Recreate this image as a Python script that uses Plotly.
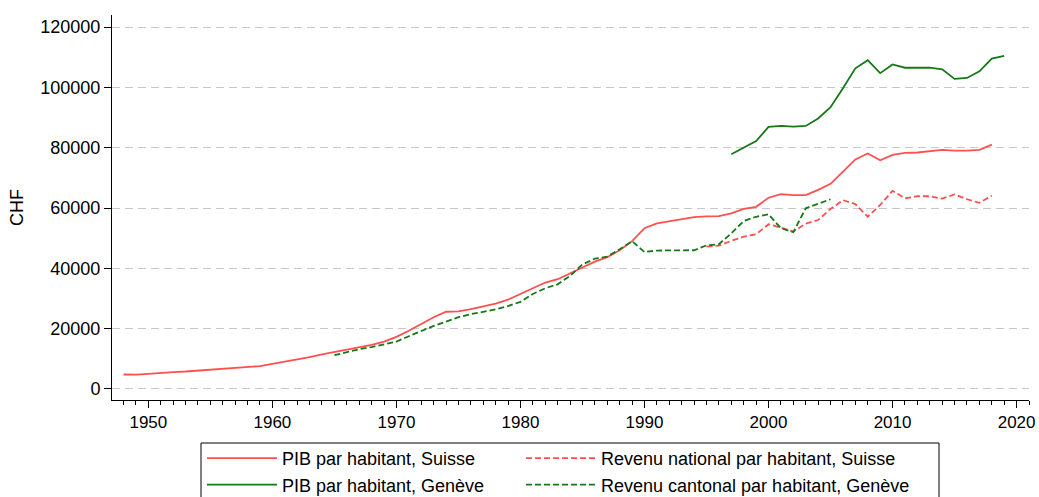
import plotly.graph_objects as go

years_pib_ch = list(range(1948, 2019))
pib_ch = [4800, 4750, 5000, 5400, 5600, 5800, 6100, 6400, 6800, 7100,
          7200, 7600, 8300, 9000, 9800, 10600, 11500, 12300, 13000, 13800,
          14600, 15700, 17300, 19300, 21600, 23800, 25600, 25700, 26500, 27300,
          28300, 29600, 31500, 33500, 35300, 36400, 38400, 40300, 42200, 43700,
          46000, 49000, 53300, 54900, 55600, 56400, 57000, 57200, 57300, 58200,
          59700, 60400, 63400, 64600, 64300, 64300, 66000, 68000, 72000, 76100,
          78100, 75800, 77600, 78300, 78400, 78900, 79300, 79000, 79000, 79300,
          81000]

years_rn_ch = list(range(1995, 2019))
rn_ch = [47200, 47500, 49100, 50500, 51300, 54600, 53500, 52200, 54800, 56000,
         59700, 62600, 61300, 57100, 61000, 65700, 63200, 63900, 63900, 63100,
         64500, 62900, 61700, 64100]

years_pib_ge = list(range(1997, 2020))
pib_ge = [77800, 80100, 82200, 86900, 87200, 87000, 87200, 89700, 93400, 99700,
          106300, 109000, 104700, 107600, 106500, 106500, 106500, 106000, 102800,
          103100, 105300, 109500, 110400]

years_rc_ge = list(range(1965, 2006))
rc_ge = [11200, 12200, 13200, 13900, 14700, 15700, 17500, 19300, 20900, 22300,
         23800, 24800, 25600, 26400, 27500, 28900, 31500, 33400, 34700, 37500,
         41300, 43200, 43900, 46300, 49000, 45400, 45900, 45900, 45900, 46000,
         47600, 48000, 51600, 55700, 57100, 57900, 53300, 52000, 59900, 61300,
         62900]

names = ["PIB par habitant, Suisse", "Revenu national par habitant, Suisse",
         "PIB par habitant, Genève", "Revenu cantonal par habitant, Genève"]

RED = "rgb(255,80,80)"
GREEN = "rgb(22,120,22)"
FONT = "Liberation Sans, Arial, sans-serif"

fig = go.Figure()
fig.add_trace(go.Scatter(x=years_pib_ch, y=pib_ch, mode="lines", name=names[0],
                         line=dict(color=RED, width=1.8), legend="legend"))
fig.add_trace(go.Scatter(x=years_rn_ch, y=rn_ch, mode="lines", name=names[1],
                         line=dict(color=RED, width=1.8, dash="6px,3px"), legend="legend2"))
fig.add_trace(go.Scatter(x=years_pib_ge, y=pib_ge, mode="lines", name=names[2],
                         line=dict(color=GREEN, width=1.8), legend="legend"))
fig.add_trace(go.Scatter(x=years_rc_ge, y=rc_ge, mode="lines", name=names[3],
                         line=dict(color=GREEN, width=1.8, dash="6px,3px"), legend="legend2"))

# page coordinates (body margin removed below)
W, H = 1039, 497
PL, PR, PT, PB = 112, 1029, 15, 400
PW, PH = PR - PL, PB - PT

def px_x(p):
    return (p - PL) / PW

def px_y(p):
    return (PB - p) / PH

leg_common = dict(orientation="v", yanchor="top", xanchor="left",
                  borderwidth=0, itemwidth=70, bgcolor="rgba(0,0,0,0)",
                  font=dict(family=FONT, size=18, color="black"),
                  traceorder="normal")

fig.update_layout(
    width=W, height=H,
    margin=dict(l=PL, r=W - PR, t=PT, b=H - PB, autoexpand=False),
    paper_bgcolor="white", plot_bgcolor="white",
    font=dict(family=FONT, size=18, color="black"),
    showlegend=True,
    legend=dict(x=px_x(202), y=px_y(440), **leg_common),
    legend2=dict(x=px_x(521), y=px_y(440), **leg_common),
    shapes=[dict(type="rect", xref="paper", yref="paper",
                 x0=px_x(201), x1=px_x(939), y0=px_y(513), y1=px_y(443),
                 line=dict(color="black", width=1), fillcolor="rgba(0,0,0,0)")],
)
fig.update_xaxes(
    range=[1947.07, 2021.0], tick0=1950, dtick=10,
    ticks="outside", ticklen=7, tickcolor="black", tickwidth=1,
    showline=True, linecolor="black", linewidth=1,
    showgrid=False, zeroline=False,
    minor=dict(dtick=1, tick0=1950, ticks="outside", ticklen=4, tickcolor="black", showgrid=False),
    tickfont=dict(size=17),
)
fig.update_yaxes(
    range=[-3650, 123980], tick0=0, dtick=20000, tickformat="d",
    ticks="outside", ticklen=7, tickcolor="black", tickwidth=1,
    showline=True, linecolor="black", linewidth=1,
    showgrid=True, gridcolor="rgb(200,200,200)", gridwidth=1, griddash="8px,5px",
    zeroline=False,
    title=dict(text="CHF", standoff=12, font=dict(size=18)),
    tickfont=dict(size=18),
)

fig.write_html(
    "out.html",
    config={"displayModeBar": False},
    post_script="document.body.style.margin='0';document.body.style.overflow='hidden';",
)
